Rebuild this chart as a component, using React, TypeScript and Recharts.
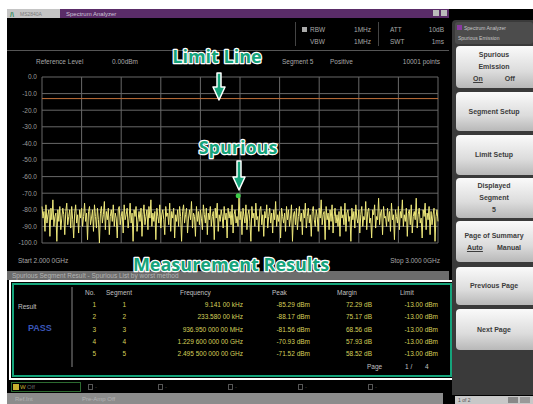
import React from "react";
import {
  ComposedChart,
  Line,
  XAxis,
  YAxis,
  CartesianGrid,
  ReferenceLine,
  ReferenceDot,
} from "recharts";

const Y_TICKS = [0, -10, -20, -30, -40, -50, -60, -70, -80, -90, -100];
const X_TICKS = [2.0, 2.1, 2.2, 2.3, 2.4, 2.5, 2.6, 2.7, 2.8, 2.9, 3.0];

// trace, 2.000 - 3.000 GHz, 2.5 MHz apart (dBm)
const TRACE_DB = [
  -78, -85, -81, -93, -77, -88, -83, -80, -96, -79, -86, -74, -90, -84, -82, -99, -80, -87, -78, -92,
  -85, -79, -83, -95, -81, -76, -89, -84, -80, -91, -78, -86, -97, -82, -77, -88, -83, -94, -80, -85,
  -79, -90, -84, -76, -87, -82, -98, -81, -78, -89, -85, -80, -93, -77, -84, -91, -79, -86, -100, -82,
  -78, -88, -83, -75, -92, -81, -86, -79, -95, -84, -80, -87, -77, -90, -82, -85, -97, -80, -78, -89,
  -84, -81, -94, -77, -86, -83, -79, -91, -85, -76, -88, -82, -99, -80, -84, -78, -93, -86, -81, -87,
  -79, -96, -83, -77, -89, -84, -80, -92, -78, -85, -74, -90, -82, -87, -81, -98, -79, -84, -88, -77,
  -91, -83, -80, -86, -95, -78, -84, -82, -89, -76, -93, -81, -85, -79, -97, -83, -87, -80, -90, -78,
  -84, -99, -81, -77, -88, -83, -79, -94, -85, -80, -86, -75, -91, -82, -84, -96, -78, -87, -81, -89,
  -80, -85, -92, -77, -83, -88, -79, -95, -82, -86, -78, -90, -84, -81, -98, -79, -85, -76, -93, -83,
  -87, -80, -84, -91, -78, -86, -82, -97, -79, -85, -81, -89, -77, -94, -83, -80, -88, -84, -90, -72,
  -86, -81, -95, -79, -84, -88, -77, -92, -83, -80, -87, -99, -78, -85, -82, -90, -76, -86, -84, -93,
  -80, -78, -89, -83, -96, -81, -85, -77, -91, -84, -79, -88, -82, -94, -80, -86, -75, -90, -83, -87,
  -81, -97, -79, -84, -88, -82, -93, -78, -86, -80, -90, -85, -77, -99, -83, -81, -89, -79, -92, -84,
  -78, -87, -82, -95, -80, -85, -76, -91, -84, -79, -88, -83, -96, -81, -78, -86, -90, -80, -84, -93,
  -79, -85, -74, -89, -83, -81, -98, -78, -86, -82, -92, -80, -87, -77, -94, -84, -79, -88, -83, -90,
  -81, -96, -78, -85, -83, -89, -76, -93, -82, -80, -87, -84, -99, -79, -86, -81, -91, -77, -85, -88,
  -80, -94, -83, -78, -90, -84, -86, -75, -92, -81, -79, -88, -85, -97, -80, -83, -77, -91, -84, -86,
  -73, -89, -82, -80, -95, -78, -85, -84, -90, -79, -87, -81, -93, -76, -86, -83, -98, -80, -84, -88,
  -78, -92, -81, -85, -74, -90, -83, -87, -79, -96, -82, -80, -89, -77, -94, -84, -81, -86, -73, -91,
  -83, -79, -88, -85, -97, -80, -84, -76, -92, -82, -86, -78, -95, -81, -89, -83, -79, -99, -84, -80,
  -87,
];
const START_GHZ = 2.0;
const STEP_GHZ = 0.0025;

const LIMIT_DBM = -13;
const SPUR_GHZ = 2.4955;
const SPUR_DBM = -71.52;

// result table
const ROW_NO = ["1", "2", "3", "4", "5"];
const ROW_SEG = ["1", "2", "3", "4", "5"];
const ROW_FREQ = [
  "9.141 00 kHz",
  "233.580 00 kHz",
  "936.950 000 00 MHz",
  "1.229 600 000 00 GHz",
  "2.495 500 000 00 GHz",
];
const ROW_PEAK = ["-85.29 dBm", "-88.17 dBm", "-81.56 dBm", "-70.93 dBm", "-71.52 dBm"];
const ROW_MARGIN = ["72.29 dB", "75.17 dB", "68.56 dB", "57.93 dB", "58.52 dB"];
const ROW_LIMIT = ["-13.00 dBm", "-13.00 dBm", "-13.00 dBm", "-13.00 dBm", "-13.00 dBm"];
const ROW_Y = [305, 317, 330, 342, 354];

const traceData = TRACE_DB.map((p, i) => ({
  f: +(START_GHZ + i * STEP_GHZ).toFixed(4),
  p,
}));

const UI_FONT = '"Liberation Sans", Arial, sans-serif';
const TEAL = "#15a47b";

type TProps = {
  x: number;
  y: number;
  children: React.ReactNode;
  align?: "left" | "right" | "center";
  color?: string;
  size?: number;
  weight?: number;
};

const T: React.FC<TProps> = ({ x, y, children, align = "left", color = "#a8a8a8", size = 6.5, weight = 400 }) => {
  const tx = align === "right" ? "-100%" : align === "center" ? "-50%" : "0";
  return (
    <div
      style={{
        position: "absolute",
        left: x,
        top: y,
        transform: `translate(${tx}, -50%)`,
        whiteSpace: "nowrap",
        color,
        fontSize: size,
        fontWeight: weight,
        lineHeight: 1,
      }}
    >
      {children}
    </div>
  );
};

const Key: React.FC<{ top: number; height: number; children: React.ReactNode }> = ({ top, height, children }) => (
  <div
    style={{
      position: "absolute",
      left: 456,
      top,
      width: 80,
      height,
      borderRadius: 4,
      background: "linear-gradient(#fafafa, #dcdcdc 60%, #b8b8b8)",
      display: "flex",
      flexDirection: "column",
      alignItems: "center",
      justifyContent: "center",
      color: "#3c3c3c",
      fontSize: 7,
      fontWeight: 700,
      lineHeight: "12px",
      paddingRight: 4,
      boxSizing: "border-box",
    }}
  >
    {children}
  </div>
);

const Arrow: React.FC<{ x: number; y1: number; y2: number }> = ({ x, y1, y2 }) => {
  const head = 13;
  const d = `M${x - 2},${y1} L${x + 2},${y1} L${x + 2},${y2 - head} L${x + 6},${y2 - head} L${x},${y2} L${x - 6},${y2 - head} L${x - 2},${y2 - head} Z`;
  return <path d={d} fill={TEAL} stroke="#fff" strokeWidth={1.5} strokeLinejoin="round" />;
};

export default function App() {
  return (
    <div
      style={{
        position: "absolute",
        left: 0,
        top: 0,
        width: 533,
        height: 404,
        background: "#fff",
        overflow: "hidden",
        fontFamily: UI_FONT,
      }}
    >
      {/* instrument screen */}
      <div style={{ position: "absolute", left: 7, top: 9, width: 526, height: 395, background: "#000" }} />

      {/* title bar */}
      <div style={{ position: "absolute", left: 7, top: 9, width: 53, height: 9, background: "#c4c4c4" }} />
      <T x={10} y={13.5} color="#2c8c5a" size={7} weight={700}>/\</T>
      <T x={20} y={13.5} color="#7a7a7a" size={5}>MS2840A</T>
      <div style={{ position: "absolute", left: 60, top: 9, width: 389, height: 9, background: "#5a2c68" }} />
      <T x={66} y={13.5} color="#cfc4d6" size={6}>Spectrum Analyzer</T>
      <div style={{ position: "absolute", left: 433, top: 10, width: 6, height: 6, background: "#bbb" }} />
      <div style={{ position: "absolute", left: 441, top: 10, width: 6, height: 6, background: "#bbb" }} />

      {/* header parameters */}
      <div style={{ position: "absolute", left: 295, top: 22, width: 1, height: 24, background: "#444" }} />
      <div style={{ position: "absolute", left: 378, top: 22, width: 1, height: 24, background: "#444" }} />
      <div style={{ position: "absolute", left: 302, top: 27, width: 5, height: 5, background: "#aaa" }} />
      <T x={310} y={30}>RBW</T>
      <T x={371} y={30} align="right">1MHz</T>
      <T x={390} y={30}>ATT</T>
      <T x={444} y={30} align="right">10dB</T>
      <T x={310} y={42}>VBW</T>
      <T x={371} y={42} align="right">1MHz</T>
      <T x={390} y={42}>SWT</T>
      <T x={444} y={42} align="right">1ms</T>
      <div style={{ position: "absolute", left: 7, top: 50, width: 442, height: 1, background: "#555" }} />

      <T x={36} y={62}>Reference Level</T>
      <T x={112} y={62}>0.00dBm</T>
      <T x={282} y={62}>Segment 5</T>
      <T x={330} y={62}>Positive</T>
      <T x={440} y={62} align="right">10001 points</T>

      {/* spectrum plot */}
      <div style={{ position: "absolute", left: 0, top: 60 }}>
        <ComposedChart
          width={450}
          height={200}
          data={traceData}
          margin={{ top: 17, right: 12, bottom: 17, left: 0 }}
        >
          <CartesianGrid
            stroke="#686868"
            strokeWidth={1}
            verticalValues={X_TICKS}
            horizontalValues={Y_TICKS}
          />
          <XAxis dataKey="f" type="number" domain={[2, 3]} ticks={X_TICKS} hide />
          <YAxis
            type="number"
            domain={[-100, 0]}
            ticks={Y_TICKS}
            interval={0}
            width={42}
            axisLine={false}
            tickLine={false}
            tickSize={0}
            tickMargin={5}
            tick={{ fill: "#9c9c9c", fontSize: 6.5, fontFamily: UI_FONT }}
            tickFormatter={(v: number) => v.toFixed(1)}
          />
          <ReferenceLine y={LIMIT_DBM} stroke="#c0703a" strokeWidth={1} ifOverflow="visible" />
          <Line
            dataKey="p"
            type="linear"
            stroke="#eee87a"
            strokeWidth={1}
            dot={false}
            isAnimationActive={false}
          />
          <ReferenceDot x={SPUR_GHZ} y={SPUR_DBM} r={2.5} fill="#3ccc4a" stroke="none" />
        </ComposedChart>
      </div>

      <T x={18} y={261}>Start 2.000 0GHz</T>
      <T x={440} y={261} align="right">Stop 3.000 0GHz</T>

      {/* result list */}
      <div style={{ position: "absolute", left: 7, top: 271, width: 442, height: 9, background: "#6c6c6c" }} />
      <T x={12} y={275.5} color="#b4b4b4" size={6.5}>Spurious Segment Result - Spurious List by worst method</T>
      <div
        style={{
          position: "absolute",
          left: 9,
          top: 280,
          width: 446,
          height: 100,
          boxSizing: "border-box",
          border: "2px solid #fff",
          background: "#000",
        }}
      >
        <div
          style={{
            position: "absolute",
            left: 1,
            top: 1,
            right: 1,
            bottom: 1,
            border: `2px solid ${TEAL}`,
          }}
        />
      </div>
      <div style={{ position: "absolute", left: 71, top: 287, width: 2, height: 80, background: "#444" }} />
      <T x={18} y={307} color="#c0c0c0">Result</T>
      <T x={28} y={328} color="#3a56b8" size={9} weight={700}>PASS</T>
      <T x={85} y={293} color="#c0c0c0">No.</T>
      <T x={106} y={293} color="#c0c0c0">Segment</T>
      <T x={180} y={293} color="#c0c0c0">Frequency</T>
      <T x={272} y={293} color="#c0c0c0">Peak</T>
      <T x={337} y={293} color="#c0c0c0">Margin</T>
      <T x={400} y={293} color="#c0c0c0">Limit</T>
      {ROW_Y.map((y, i) => (
        <React.Fragment key={i}>
          <T x={96} y={y} align="right" color="#d6d05a">{ROW_NO[i]}</T>
          <T x={126} y={y} align="right" color="#d6d05a">{ROW_SEG[i]}</T>
          <T x={243} y={y} align="right" color="#d6d05a">{ROW_FREQ[i]}</T>
          <T x={310} y={y} align="right" color="#d6d05a">{ROW_PEAK[i]}</T>
          <T x={372} y={y} align="right" color="#d6d05a">{ROW_MARGIN[i]}</T>
          <T x={438} y={y} align="right" color="#d6d05a">{ROW_LIMIT[i]}</T>
        </React.Fragment>
      ))}
      <T x={367} y={367} color="#c0c0c0">Page</T>
      <T x={405} y={367} color="#c0c0c0">1 /</T>
      <T x={425} y={367} color="#c0c0c0">4</T>

      {/* marker strip + status bar */}
      <div style={{ position: "absolute", left: 11, top: 382, width: 70, height: 10, border: "1px solid #2c6a30", boxSizing: "border-box" }} />
      <div style={{ position: "absolute", left: 13, top: 384, width: 6, height: 6, background: "#c8b030" }} />
      <T x={20} y={387} color="#c8b030" size={6}>W</T>
      <T x={27} y={387} color="#666" size={6}>Off</T>
      {[88, 158, 228, 298, 368].map((x, i) => (
        <React.Fragment key={i}>
          <div style={{ position: "absolute", left: x, top: 384, width: 5, height: 6, border: "1px solid #555", boxSizing: "border-box" }} />
          <T x={x + 7} y={387} color="#555" size={6}>-</T>
        </React.Fragment>
      ))}
      <div style={{ position: "absolute", left: 7, top: 393, width: 436, height: 11, background: "#8c8c8c" }} />
      <T x={15} y={399} color="#b4b4b4" size={6}>Ref.Int</T>
      <T x={82} y={399} color="#b4b4b4" size={6}>Pre-Amp Off</T>

      {/* soft keys */}
      <div style={{ position: "absolute", left: 452, top: 20, width: 81, height: 375, background: "#3a3a3a", borderTopLeftRadius: 4 }} />
      <div style={{ position: "absolute", left: 455, top: 22, width: 78, height: 22, background: "#4c4c4c", borderRadius: 3 }} />
      <div style={{ position: "absolute", left: 457, top: 25, width: 5, height: 5, background: "#8a3aa0" }} />
      <T x={464} y={28} color="#c8c8c8" size={5}>Spectrum Analyzer</T>
      <T x={458} y={38} color="#c8c8c8" size={5}>Spurious Emission</T>
      <Key top={46} height={42}>
        <span>Spurious</span>
        <span>Emission</span>
        <span style={{ display: "flex", gap: 22 }}>
          <span style={{ textDecoration: "underline" }}>On</span>
          <span>Off</span>
        </span>
      </Key>
      <Key top={92} height={39}>Segment Setup</Key>
      <Key top={135} height={40}>Limit Setup</Key>
      <Key top={178} height={40}>
        <span>Displayed</span>
        <span>Segment</span>
        <span>5</span>
      </Key>
      <Key top={221} height={41}>
        <span>Page of Summary</span>
        <span style={{ display: "flex", gap: 14 }}>
          <span style={{ textDecoration: "underline" }}>Auto</span>
          <span>Manual</span>
        </span>
      </Key>
      <Key top={267} height={38}>Previous Page</Key>
      <Key top={309} height={41}>Next Page</Key>
      <div style={{ position: "absolute", left: 455, top: 396, width: 78, height: 8, background: "#c8c8c8" }} />
      <T x={458} y={400} color="#555" size={5}>1 of 2</T>
      <div style={{ position: "absolute", left: 508, top: 397, width: 10, height: 6, background: "#888" }} />
      <div style={{ position: "absolute", left: 520, top: 397, width: 10, height: 6, background: "#999" }} />

      {/* callouts */}
      <svg width={533} height={404} style={{ position: "absolute", left: 0, top: 0, pointerEvents: "none" }}>
        <g
          fontFamily='"Open Sans", "Noto Sans", sans-serif'
          fontWeight={700}
          fontSize={18}
          fill={TEAL}
          stroke="#fff"
          strokeWidth={2.5}
          strokeLinejoin="round"
          style={{ paintOrder: "stroke" }}
          textAnchor="middle"
        >
          <text x={217} y={63}>Limit Line</text>
          <text x={238} y={154}>Spurious</text>
          <text x={231} y={271}>Measurement Results</text>
        </g>
        <Arrow x={219} y1={73} y2={100} />
        <Arrow x={239} y1={161} y2={190} />
      </svg>
    </div>
  );
}
